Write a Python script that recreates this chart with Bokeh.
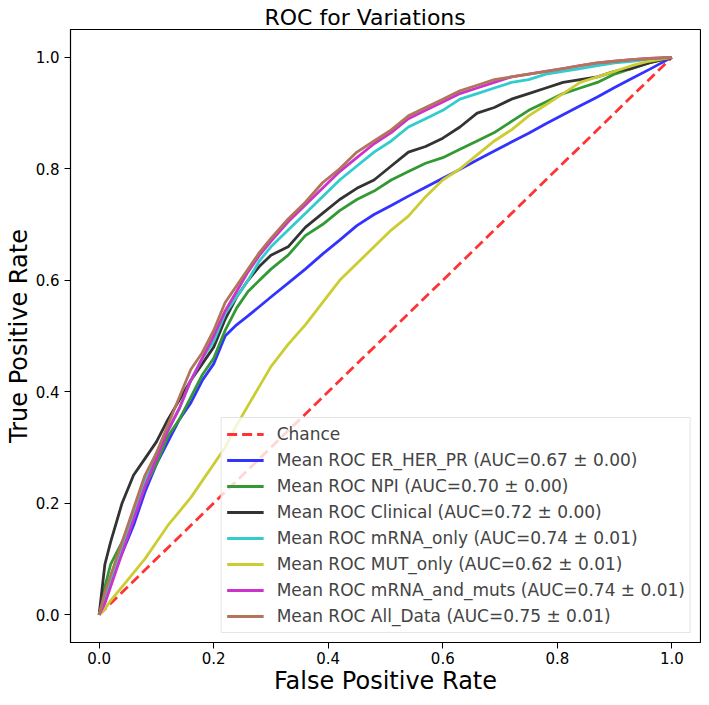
from bokeh.plotting import figure
from bokeh.models import FixedTicker, PrintfTickFormatter, Legend, LegendItem
from bokeh.embed import file_html
from bokeh.resources import INLINE

# false positive rate grid shared by all mean ROC curves
fpr = [0, 0.01, 0.02, 0.04, 0.06, 0.08, 0.10, 0.12, 0.14, 0.16, 0.18, 0.20,
       0.22, 0.24, 0.26, 0.28, 0.30, 0.33, 0.36, 0.39, 0.42, 0.45, 0.48, 0.51,
       0.54, 0.57, 0.60, 0.63, 0.66, 0.69, 0.72, 0.75, 0.78, 0.81, 0.84, 0.87,
       0.90, 0.93, 0.96, 1.0]

# mean true positive rates
tpr_er_her_pr = [0, 0.03, 0.06, 0.11, 0.16, 0.22, 0.27, 0.31, 0.35, 0.38, 0.42, 0.45,
                 0.50, 0.52, 0.536, 0.553, 0.57, 0.595, 0.62, 0.647, 0.672, 0.698, 0.718, 0.734,
                 0.751, 0.767, 0.783, 0.799, 0.816, 0.832, 0.848, 0.864, 0.881, 0.897, 0.913, 0.929,
                 0.946, 0.962, 0.978, 1.0]
tpr_npi = [0, 0.05, 0.09, 0.13, 0.18, 0.23, 0.27, 0.32, 0.35, 0.39, 0.43, 0.46,
           0.51, 0.55, 0.58, 0.60, 0.62, 0.645, 0.68, 0.70, 0.725, 0.745, 0.76, 0.78,
           0.795, 0.81, 0.82, 0.835, 0.85, 0.865, 0.885, 0.905, 0.92, 0.935, 0.945, 0.955,
           0.97, 0.98, 0.99, 1.0]
tpr_clinical = [0, 0.09, 0.13, 0.20, 0.25, 0.28, 0.31, 0.35, 0.385, 0.42, 0.45, 0.48,
                0.53, 0.57, 0.60, 0.625, 0.645, 0.66, 0.695, 0.72, 0.745, 0.765, 0.78, 0.805,
                0.83, 0.84, 0.855, 0.875, 0.90, 0.91, 0.925, 0.935, 0.945, 0.955, 0.96, 0.965,
                0.975, 0.98, 0.99, 1.0]
tpr_mrna_only = [0, 0.03, 0.06, 0.12, 0.18, 0.24, 0.29, 0.33, 0.37, 0.42, 0.46, 0.49,
                 0.54, 0.57, 0.60, 0.635, 0.66, 0.69, 0.72, 0.75, 0.78, 0.805, 0.83, 0.85,
                 0.875, 0.89, 0.905, 0.925, 0.935, 0.945, 0.955, 0.96, 0.97, 0.975, 0.98, 0.985,
                 0.99, 0.993, 0.997, 1.0]
tpr_mut_only = [0, 0.01, 0.025, 0.05, 0.075, 0.10, 0.13, 0.16, 0.185, 0.21, 0.24, 0.27,
                0.30, 0.34, 0.375, 0.41, 0.445, 0.485, 0.52, 0.56, 0.60, 0.63, 0.66, 0.69,
                0.715, 0.75, 0.78, 0.80, 0.825, 0.85, 0.87, 0.895, 0.915, 0.935, 0.955, 0.965,
                0.975, 0.985, 0.993, 1.0]
tpr_mrna_and_muts = [0, 0.02, 0.05, 0.11, 0.17, 0.23, 0.28, 0.33, 0.37, 0.42, 0.46, 0.50,
                     0.545, 0.58, 0.615, 0.645, 0.67, 0.705, 0.735, 0.765, 0.795, 0.82, 0.845, 0.865,
                     0.89, 0.905, 0.92, 0.935, 0.945, 0.955, 0.965, 0.97, 0.975, 0.98, 0.985, 0.99,
                     0.993, 0.996, 0.998, 1.0]
tpr_all_data = [0, 0.04, 0.07, 0.13, 0.19, 0.25, 0.29, 0.34, 0.39, 0.44, 0.47, 0.51,
                0.56, 0.59, 0.62, 0.65, 0.675, 0.71, 0.74, 0.775, 0.80, 0.83, 0.85, 0.87,
                0.895, 0.91, 0.925, 0.94, 0.95, 0.96, 0.965, 0.97, 0.975, 0.98, 0.985, 0.99,
                0.993, 0.996, 0.998, 1.0]

chance_x = [0, 1]
chance_y = [0, 1]

labels = ["Mean ROC ER_HER_PR (AUC=0.67 \u00b1 0.00)",
          "Mean ROC NPI (AUC=0.70 \u00b1 0.00)",
          "Mean ROC Clinical (AUC=0.72 \u00b1 0.00)",
          "Mean ROC mRNA_only (AUC=0.74 \u00b1 0.01)",
          "Mean ROC MUT_only (AUC=0.62 \u00b1 0.01)",
          "Mean ROC mRNA_and_muts (AUC=0.74 \u00b1 0.01)",
          "Mean ROC All_Data (AUC=0.75 \u00b1 0.01)"]
series = [tpr_er_her_pr, tpr_npi, tpr_clinical, tpr_mrna_only,
          tpr_mut_only, tpr_mrna_and_muts, tpr_all_data]
colors = ["#3333ff", "#339933", "#333333", "#33cccc", "#cccc33", "#cc33cc", "#b3755a"]

FONT = "DejaVu Sans"

p = figure(width=701, height=697,
           x_range=(-0.05, 1.05), y_range=(-0.05, 1.05),
           title="ROC for Variations",
           output_backend="svg", toolbar_location=None,
           min_border_left=70, min_border_right=1,
           min_border_top=29, min_border_bottom=50)

p.title.text_font = FONT
p.title.text_font_size = "22px"
p.title.text_font_style = "normal"
p.title.text_color = "black"
p.title.align = "left"
p.title.offset = 194
p.title.standoff = 0

p.xgrid.visible = False
p.ygrid.visible = False
p.outline_line_color = "black"
p.outline_line_width = 1.2

ticks = [0, 0.2, 0.4, 0.6, 0.8, 1.0]
for ax in (p.xaxis[0], p.yaxis[0]):
    ax.ticker = FixedTicker(ticks=ticks)
    ax.formatter = PrintfTickFormatter(format="%.1f")
    ax.minor_tick_line_color = None
    ax.major_tick_in = 0
    ax.major_tick_out = 6
    ax.major_tick_line_color = "black"
    ax.axis_line_color = "black"
    ax.major_label_text_font = FONT
    ax.major_label_text_font_size = "15px"
    ax.major_label_text_color = "black"
    ax.axis_label_text_font = FONT
    ax.axis_label_text_font_style = "normal"
    ax.axis_label_text_font_size = "24px"
    ax.axis_label_text_color = "black"
    ax.axis_label_standoff = 0

p.xaxis.axis_label = "False Positive Rate"
p.yaxis.axis_label = "True Positive Rate"
p.xaxis.major_label_standoff = 3
p.yaxis.major_label_standoff = 5

items = []
r = p.line(chance_x, chance_y, line_color="#ff3333", line_width=2.8, line_dash="10 5")
items.append(LegendItem(label="Chance", renderers=[r]))
for lab, ys, col in zip(labels, series, colors):
    r = p.line(fpr, ys, line_color=col, line_width=2.8)
    items.append(LegendItem(label=lab, renderers=[r]))

legend = Legend(items=items, location="bottom_right",
                label_text_font=FONT, label_text_font_size="17px",
                glyph_width=37, glyph_height=22, label_height=22,
                label_standoff=13, spacing=4, padding=5, margin=9,
                border_line_color="#cccccc", border_line_width=1.2,
                background_fill_color="white", background_fill_alpha=0.8)
p.add_layout(legend)

open("out.html", "w").write(file_html(p, INLINE))
